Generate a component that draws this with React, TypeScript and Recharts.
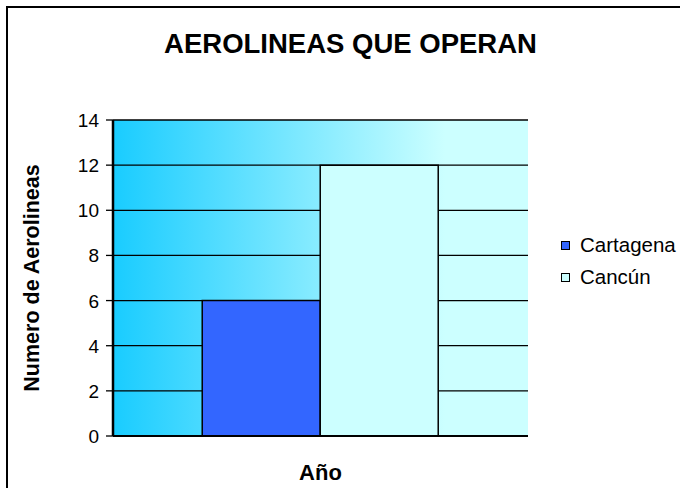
import React from "react";
import { BarChart, Bar, XAxis, YAxis, CartesianGrid } from "recharts";

const categories = ["Año"];
const cartagena = [6];
const cancun = [12];
const yTicks = [0, 2, 4, 6, 8, 10, 12, 14];
const seriesNames = ["Cartagena", "Cancún"];
const seriesColors = ["#3366FF", "#CCFFFF"];

const data = categories.map((c, i) => ({ cat: c, Cartagena: cartagena[i], "Cancún": cancun[i] }));

const FONT = "'Liberation Sans', Arial, sans-serif";

const YTick = (props: any) => {
  const { x, y, payload } = props;
  return (
    <text x={x} y={y} dy={7} textAnchor="end" fontFamily={FONT} fontSize={19} fill="#000">
      {payload.value}
    </text>
  );
};

export default function App() {
  return (
    <div style={{ position: "absolute", left: 0, top: 0, width: 680, height: 488, background: "#fff", overflow: "hidden" }}>
      <div
        style={{
          position: "absolute",
          left: 6,
          top: 6,
          width: 700,
          height: 500,
          border: "2px solid #000",
          boxSizing: "border-box",
        }}
      />
      <div
        style={{
          position: "absolute",
          left: 0,
          width: 701,
          top: 28,
          textAlign: "center",
          fontFamily: FONT,
          fontWeight: "bold",
          fontSize: 27.5,
          lineHeight: "32px",
          color: "#000",
        }}
      >
        AEROLINEAS QUE OPERAN
      </div>
      <div style={{ position: "absolute", left: 0, top: 0 }}>
        <BarChart
          width={680}
          height={488}
          data={data}
          margin={{ top: 120, right: 152, bottom: 0, left: 0 }}
          barCategoryGap="21.5%"
          barGap={0}
        >
          <defs>
            <linearGradient id="bg" x1="0" y1="0" x2="1" y2="0">
              <stop offset="0" stopColor="#19CCFF" />
              <stop offset="0.8" stopColor="#CCFFFF" />
              <stop offset="1" stopColor="#CCFFFF" />
            </linearGradient>
          </defs>
          <CartesianGrid yAxisId="l" vertical={false} stroke="#000" strokeWidth={1.3} fill="url(#bg)" fillOpacity={1} />
          <XAxis
            dataKey="cat"
            height={52}
            tick={false}
            tickLine={false}
            axisLine={{ stroke: "#000", strokeWidth: 2 }}
            label={{ value: "Año", position: "insideBottom", offset: 8, style: { fontFamily: FONT, fontWeight: "bold", fontSize: 22, fill: "#000" } }}
          />
          <YAxis
            yAxisId="l"
            width={113}
            domain={[0, 14]}
            ticks={yTicks}
            interval={0}
            tickSize={7}
            tickMargin={7}
            tickLine={{ stroke: "#000", strokeWidth: 1.3 }}
            axisLine={{ stroke: "#000", strokeWidth: 2.5 }}
            tick={<YTick />}
            label={{
              value: "Numero de Aerolineas",
              angle: -90,
              position: "insideLeft",
              offset: 31,
              style: { fontFamily: FONT, fontWeight: "bold", fontSize: 21.5, fill: "#000", textAnchor: "middle" },
            }}
          />
          <YAxis
            yAxisId="r"
            orientation="right"
            width={0}
            domain={[0, 14]}
            ticks={yTicks}
            tick={false}
            tickLine={false}
            axisLine={{ stroke: "#000", strokeWidth: 2 }}
          />
          <Bar yAxisId="l" dataKey="Cartagena" fill={seriesColors[0]} stroke="#000" strokeWidth={1.5} isAnimationActive={false} />
          <Bar yAxisId="l" dataKey="Cancún" fill={seriesColors[1]} stroke="#000" strokeWidth={1.5} isAnimationActive={false} />
        </BarChart>
      </div>
      <div style={{ position: "absolute", left: 561, top: 229, fontFamily: FONT, fontSize: 20.5, color: "#000", whiteSpace: "nowrap" }}>
        {seriesNames.map((n, i) => (
          <div key={n} style={{ display: "flex", alignItems: "center", height: 32 }}>
            <span
              style={{
                display: "inline-block",
                width: 7,
                height: 7,
                background: seriesColors[i],
                border: "1.5px solid #000",
                marginRight: 10,
              }}
            />
            <span>{n}</span>
          </div>
        ))}
      </div>
    </div>
  );
}
